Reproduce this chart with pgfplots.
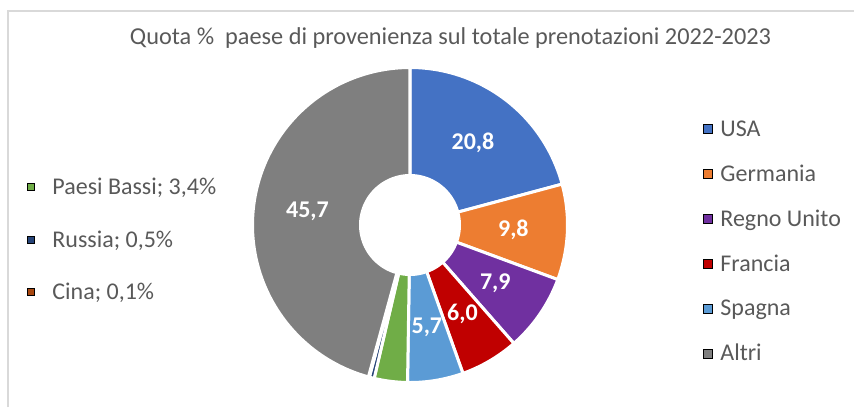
\documentclass[border=0pt]{standalone}
\usepackage{fontspec}
\setmainfont{Carlito}
\usepackage{pgfplots}
\pgfplotsset{compat=1.18}

\definecolor{cUSA}{HTML}{4472C4}
\definecolor{cGER}{HTML}{ED7D31}
\definecolor{cRU}{HTML}{7030A0}
\definecolor{cFR}{HTML}{C00000}
\definecolor{cSP}{HTML}{5B9BD5}
\definecolor{cPB}{HTML}{70AD47}
\definecolor{cRUS}{HTML}{264478}
\definecolor{cCIN}{HTML}{A8470F}
\definecolor{cALT}{HTML}{7F7F7F}
\definecolor{textgray}{HTML}{595959}
\definecolor{framegray}{HTML}{D9D9D9}

% data (share %)
\def\vUSA{20.8}
\def\vGER{9.8}
\def\vRU{7.9}
\def\vFR{6.0}
\def\vSP{5.7}
\def\vPB{3.4}
\def\vRUS{0.5}
\def\vCIN{0.1}
\def\vALT{45.7}

\pgfmathsetmacro\tot{\vUSA+\vGER+\vRU+\vFR+\vSP+\vPB+\vRUS+\vCIN+\vALT}
\pgfmathsetmacro\k{360/\tot}
\pgfmathsetmacro\aA{0}
\pgfmathsetmacro\aB{\aA+\k*\vUSA}
\pgfmathsetmacro\aC{\aB+\k*\vGER}
\pgfmathsetmacro\aD{\aC+\k*\vRU}
\pgfmathsetmacro\aE{\aD+\k*\vFR}
\pgfmathsetmacro\aF{\aE+\k*\vSP}
\pgfmathsetmacro\aG{\aF+\k*\vPB}
\pgfmathsetmacro\aH{\aG+\k*\vRUS}
\pgfmathsetmacro\aI{\aH+\k*\vCIN}
\pgfmathsetmacro\aJ{\aI+\k*\vALT}

\def\cx{410}
\def\cy{225}
\def\R{157.5}
\def\rin{51}
\def\rlab{103.5}

\newcommand\slice[3]{%
  \addplot[forget plot, fill=#3, draw=white, line width=3pt, line join=round,
    samples at={-1,0,...,90,91}, variable=\t]
  ({\cx+\R*sin(#1+(#2-#1)*\t/90)*(\t>-0.5)*(\t<90.5)},
   {\cy-\R*cos(#1+(#2-#1)*\t/90)*(\t>-0.5)*(\t<90.5)});
}
\newcommand\slabel[3]{%
  \node[font=\fontsize{24}{28}\selectfont\bfseries, text=white, inner sep=0pt]
    at (axis cs:{\cx+\rlab*sin((#1+#2)/2)},{\cy-\rlab*cos((#1+#2)/2)}) {#3};
}

\pgfplotsset{
  sqlegend/.style={
    legend cell align=left,
    legend style={draw=none, fill=none, inner sep=0pt, outer sep=0pt,
      font=\fontsize{24}{28}\selectfont, text=textgray,
      nodes={inner sep=0pt}},
  }
}

\begin{document}
\begin{tikzpicture}
\begin{axis}[
  scale only axis, width=855pt, height=408pt,
  xmin=0, xmax=855, ymin=0, ymax=408, y dir=reverse,
  hide axis, clip=false,
  sqlegend,
  legend image code/.code={\fill[#1] (0pt,-4.5pt) rectangle (9pt,4.5pt); \path (17pt,0pt);},
  legend style={at={(axis cs:703,120.5)}, anchor=north west, row sep=27.1pt},
]
% page extent and frame
\path (axis cs:0,0) rectangle (axis cs:855,408);
\draw[framegray, line width=2pt] (axis cs:8,407) -- (axis cs:8,10.5) -- (axis cs:854,10.5);

\slice{\aA}{\aB}{cUSA}
\slice{\aB}{\aC}{cGER}
\slice{\aC}{\aD}{cRU}
\slice{\aD}{\aE}{cFR}
\slice{\aE}{\aF}{cSP}
\slice{\aF}{\aG}{cPB}
\slice{\aG}{\aH}{cRUS}
\slice{\aH}{\aI}{cCIN}
\slice{\aI}{\aJ}{cALT}
\addplot[forget plot, fill=white, draw=none, samples=120, domain=0:360]
  ({\cx+\rin*cos(x)},{\cy+\rin*sin(x)});

\slabel{\aA}{\aB}{20,8}
\slabel{\aB}{\aC}{9,8}
\slabel{\aC}{\aD}{7,9}
\slabel{\aD}{\aE}{6,0}
\slabel{\aE}{\aF}{5,7}
\slabel{\aI}{\aJ}{45,7}

\node[font=\fontsize{24.3}{28}\selectfont, text=textgray, inner sep=0pt]
  at (axis cs:450.5,38) {Quota \%~ paese di provenienza sul totale prenotazioni 2022-2023};

\addlegendimage{fill=cUSA}\addlegendentry{USA}
\addlegendimage{fill=cGER}\addlegendentry{Germania}
\addlegendimage{fill=cRU}\addlegendentry{Regno Unito}
\addlegendimage{fill=cFR}\addlegendentry{Francia}
\addlegendimage{fill=cSP}\addlegendentry{Spagna}
\addlegendimage{fill=cALT}\addlegendentry{Altri}
\end{axis}

\begin{axis}[
  scale only axis, width=855pt, height=408pt,
  xmin=0, xmax=855, ymin=0, ymax=408, y dir=reverse,
  hide axis, clip=false,
  sqlegend,
  legend image code/.code={\fill[#1] (0pt,-3.5pt) rectangle (7pt,3.5pt); \path (25pt,0pt);},
  legend style={at={(axis cs:27,178)}, anchor=north west, row sep=34.5pt},
]
\addlegendimage{fill=cPB}\addlegendentry{Paesi Bassi; 3,4\%}
\addlegendimage{fill=cRUS}\addlegendentry{Russia; 0,5\%}
\addlegendimage{fill=cCIN}\addlegendentry{Cina; 0,1\%}
\end{axis}
\end{tikzpicture}
\end{document}
